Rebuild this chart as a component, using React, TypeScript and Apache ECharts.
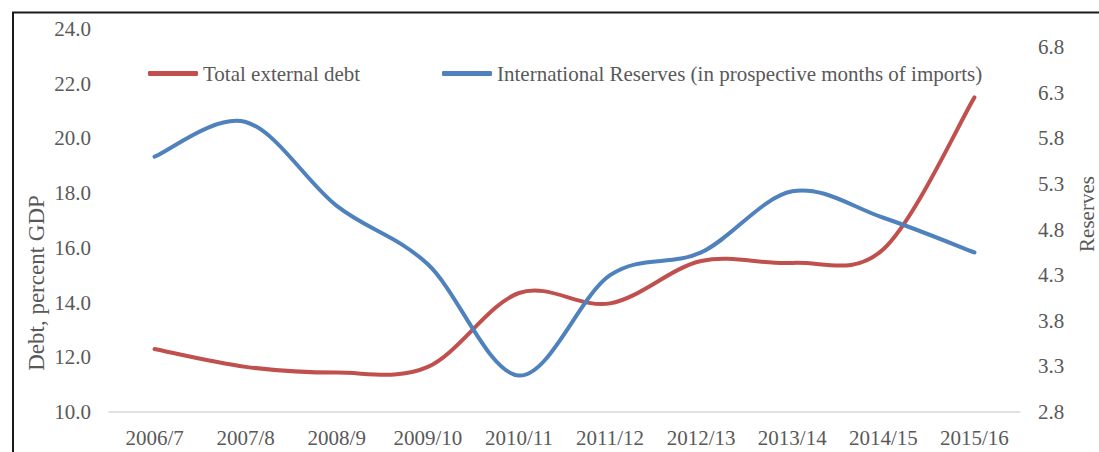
import React, { useEffect, useRef } from "react";
import * as echarts from "echarts";

const categories = ["2006/7", "2007/8", "2008/9", "2009/10", "2010/11", "2011/12", "2012/13", "2013/14", "2014/15", "2015/16"];
const totalExternalDebt = [12.3, 11.65, 11.44, 11.65, 14.35, 13.97, 15.52, 15.45, 15.95, 21.5];
const reserves = [5.6, 5.98, 5.06, 4.42, 3.2, 4.3, 4.55, 5.22, 4.93, 4.55];
const debtName = "Total external debt";
const reservesName = "International Reserves (in prospective months of imports)";

const FONT = '"Liberation Serif", "Times New Roman", serif';
const TEXT = "#595959";
const RED = "#C0504D";
const BLUE = "#4F81BD";

// Smooth curve (Catmull-Rom style, as spreadsheet "smoothed line") through points from the axis scales
function smoothPath(pts: number[][]): string {
  const n = pts.length;
  if (n === 0) return "";
  let d = `M${pts[0][0]},${pts[0][1]}`;
  for (let i = 0; i < n - 1; i++) {
    const p0 = pts[i - 1] || pts[i];
    const p1 = pts[i];
    const p2 = pts[i + 1];
    const p3 = pts[i + 2] || pts[i + 1];
    const c1x = p1[0] + (p2[0] - p0[0]) / 6;
    const c1y = p1[1] + (p2[1] - p0[1]) / 6;
    const c2x = p2[0] - (p3[0] - p1[0]) / 6;
    const c2y = p2[1] - (p3[1] - p1[1]) / 6;
    d += ` C${c1x},${c1y} ${c2x},${c2y} ${p2[0]},${p2[1]}`;
  }
  return d;
}

function curveSeries(name: string, values: number[], yAxisIndex: number, color: string) {
  return {
    name,
    type: "custom",
    yAxisIndex,
    data: values.map((v, i) => [i, v]),
    encode: { x: 0, y: 1 },
    itemStyle: { color },
    clip: false,
    renderItem: (params: any, api: any) => {
      if (params.dataIndex !== 0) return null;
      const pts = values.map((v, i) => api.coord([i, v]));
      return {
        type: "path",
        shape: { pathData: smoothPath(pts) },
        style: { fill: "none", stroke: color, lineWidth: 4, lineCap: "round", lineJoin: "round" },
      };
    },
  };
}

export default function App() {
  const ref = useRef<HTMLDivElement>(null);
  useEffect(() => {
    if (!ref.current) return;
    const chart = echarts.init(ref.current, null, { renderer: "svg" });
    const legendBase = {
      top: 63,
      padding: 0,
      icon: "roundRect",
      itemWidth: 50,
      itemHeight: 5,
      textStyle: { fontFamily: FONT, fontSize: 21, color: TEXT },
    };
    chart.setOption({
      animation: false,
      backgroundColor: "#ffffff",
      textStyle: { fontFamily: FONT, color: TEXT },
      grid: { left: 109, right: 79, top: 29, bottom: 40 },
      legend: [
        { ...legendBase, data: [debtName], left: 148 },
        { ...legendBase, data: [reservesName], left: 442 },
      ],
      xAxis: {
        type: "category",
        data: categories,
        boundaryGap: true,
        axisLine: { show: true, lineStyle: { color: "#D9D9D9", width: 1.5 } },
        axisTick: { show: false },
        axisLabel: { fontFamily: FONT, fontSize: 21, color: TEXT, margin: 15, interval: 0 },
      },
      yAxis: [
        {
          type: "value",
          min: 10,
          max: 24,
          interval: 2,
          axisLine: { show: false },
          axisTick: { show: false },
          splitLine: { show: false },
          axisLabel: {
            fontFamily: FONT,
            fontSize: 21,
            color: TEXT,
            margin: 18,
            formatter: (v: number) => v.toFixed(1),
          },
        },
        {
          type: "value",
          min: 2.8,
          max: 7.0,
          interval: 0.5,
          position: "right",
          axisLine: { show: false },
          axisTick: { show: false },
          splitLine: { show: false },
          axisLabel: {
            fontFamily: FONT,
            fontSize: 21,
            color: TEXT,
            margin: 18,
            showMaxLabel: false,
            formatter: (v: number) => v.toFixed(1),
          },
        },
      ],
      series: [
        curveSeries(debtName, totalExternalDebt, 0, RED),
        curveSeries(reservesName, reserves, 1, BLUE),
      ],
      graphic: [
        {
          type: "rect",
          shape: { x: 13, y: 12.5, width: 1300, height: 1000 },
          style: { fill: "none", stroke: "#1a1a1a", lineWidth: 2 },
          silent: true,
        },
        {
          type: "text",
          x: 36,
          y: 283,
          rotation: Math.PI / 2,
          style: {
            text: "Debt, percent GDP",
            font: `23px ${FONT}`,
            fill: TEXT,
            align: "center",
            verticalAlign: "middle",
            textAlign: "center",
            textVerticalAlign: "middle",
          },
        },
        {
          type: "text",
          x: 1087,
          y: 214,
          rotation: Math.PI / 2,
          style: {
            text: "Reserves",
            font: `21px ${FONT}`,
            fill: TEXT,
            align: "center",
            verticalAlign: "middle",
            textAlign: "center",
            textVerticalAlign: "middle",
          },
        },
      ],
    });
    return () => chart.dispose();
  }, []);
  return (
    <div
      ref={ref}
      style={{ position: "fixed", left: 0, top: 0, width: 1099, height: 452, background: "#fff" }}
    />
  );
}
